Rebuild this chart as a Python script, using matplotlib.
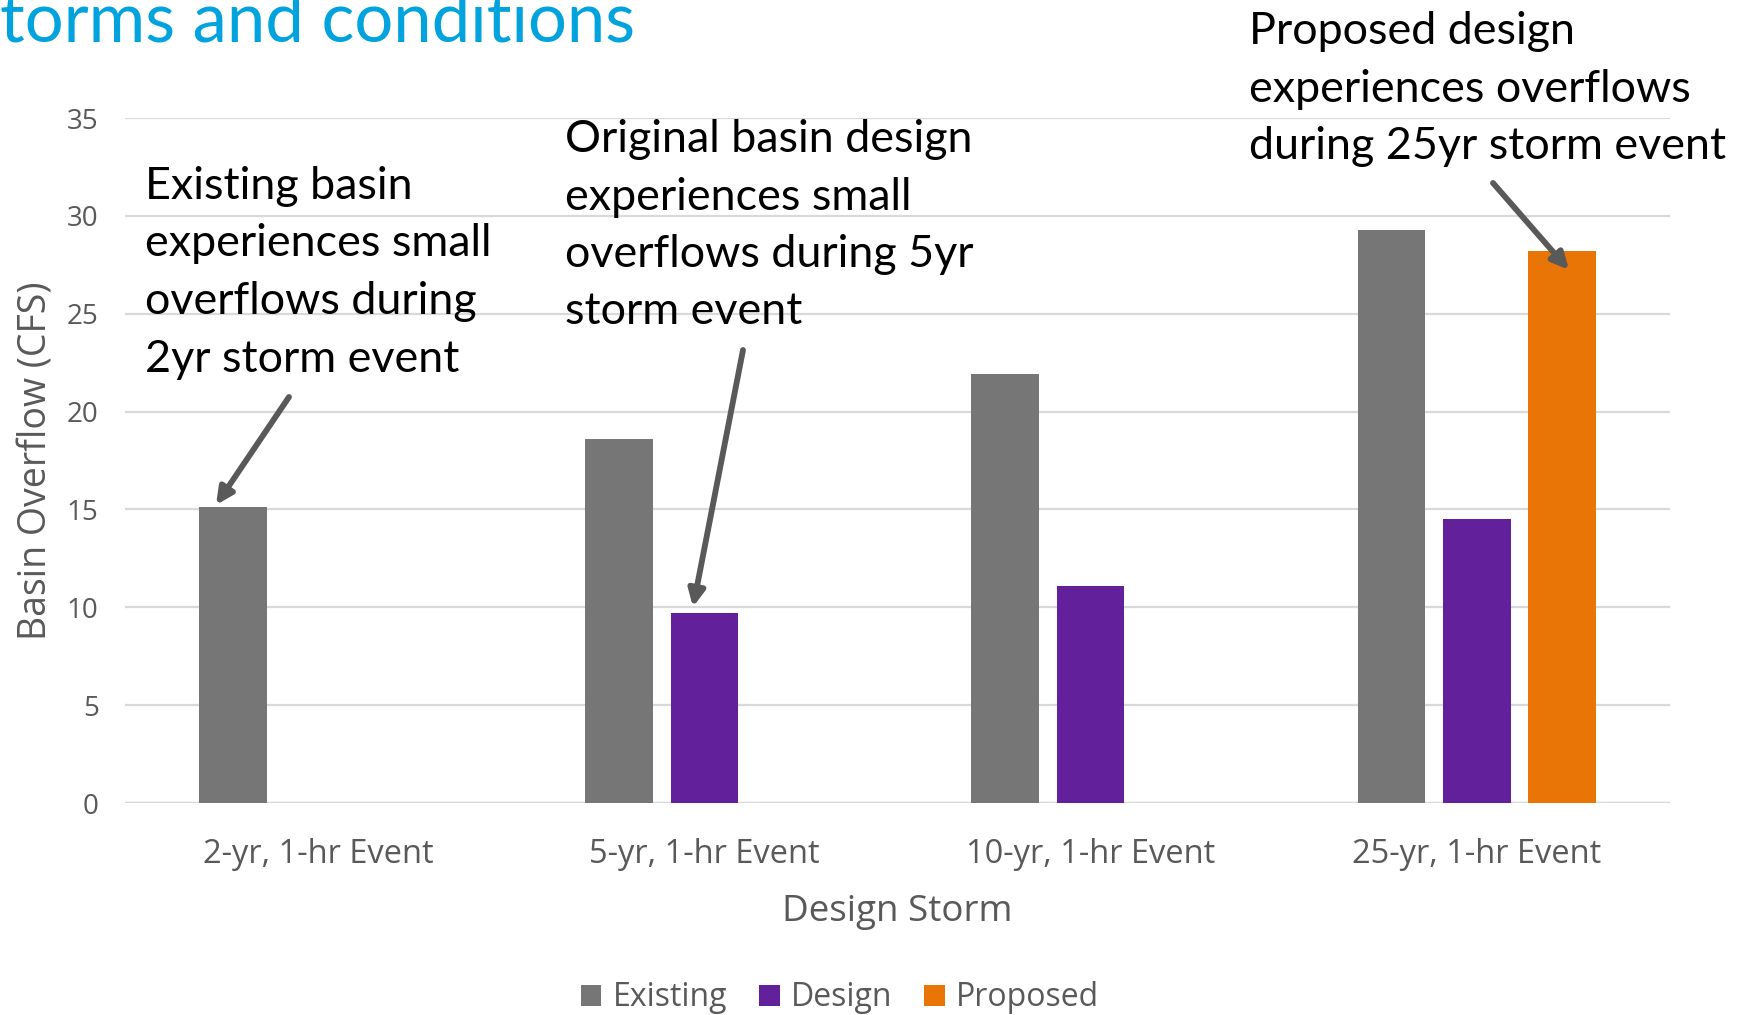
import matplotlib
matplotlib.use("Agg")
import matplotlib.pyplot as plt
import numpy as np
from matplotlib.patches import Patch

categories = ["2-yr, 1-hr Event", "5-yr, 1-hr Event", "10-yr, 1-hr Event", "25-yr, 1-hr Event"]
existing = [15.1, 18.6, 21.9, 29.3]
design = [np.nan, 9.7, 11.1, 14.5]
proposed = [np.nan, np.nan, np.nan, 28.2]
series_names = ["Existing", "Design", "Proposed"]
colors = ["#767676", "#63209B", "#E97506"]
yticks = [0, 5, 10, 15, 20, 25, 30, 35]

W, H = 1741, 1015
fig = plt.figure(figsize=(W / 100, H / 100), dpi=100)
ax = fig.add_axes([125 / W, 1 - 803 / H, (1670 - 125) / W, (803 - 118) / H])

x = np.arange(len(categories))
bw = 0.175
off = 0.221
for i, (vals, c) in enumerate(zip([existing, design, proposed], colors)):
    ax.bar(x + (i - 1) * off, vals, width=bw, color=c, zorder=2)

ax.set_xlim(-0.5, 3.5)
ax.set_ylim(0, 35)
ax.set_yticks(yticks)
ax.grid(axis="y", color="#D9D9D9", lw=1.6, zorder=0)
ax.axhline(0, color="#D9D9D9", lw=2.4, zorder=1)
for s in ax.spines.values():
    s.set_visible(False)
ax.tick_params(axis="both", length=0, colors="#595959")
ax.tick_params(axis="y", labelsize=20, pad=19)
ax.tick_params(axis="x", labelsize=23.5, pad=25)
ax.set_xticks(x)
ax.set_xticklabels(categories, fontfamily="Open Sans")
for t in ax.get_yticklabels():
    t.set_fontfamily("Open Sans")

ax.set_xlabel("Design Storm", fontsize=26.5, color="#595959", fontfamily="Open Sans", labelpad=17)
fig.text(37 / W, 1 - 461 / H, "Basin Overflow (CFS)", fontsize=27, color="#595959",
         fontfamily="Open Sans", rotation=90, ha="center", va="center")

# Title fragment (cut off at top)
fig.text(0.0, 1 - 41 / H, "torms and conditions", fontsize=49.5, color="#00A3DD",
         fontfamily="Lato", ha="left", va="baseline")

# Annotations
akw = dict(arrowstyle="-|>,head_length=0.45,head_width=0.22", color="#595959", lw=4.2,
           shrinkA=0, shrinkB=0, mutation_scale=22)
tkw = dict(fontsize=32.3, fontfamily="Lato", color="black", ha="left", va="top", linespacing=1.5)

def fpos(px, py):
    return (px / W, 1 - py / H)

fig.text(*fpos(145, 166), "Existing basin\nexperiences small\noverflows during\n2yr storm event", **tkw)
ax.annotate("", xy=fpos(216, 505), xycoords="figure fraction", xytext=fpos(289, 397),
            textcoords="figure fraction", arrowprops=akw)

fig.text(*fpos(565, 119), "Original basin design\nexperiences small\noverflows during 5yr\nstorm event", **tkw)
ax.annotate("", xy=fpos(693, 607), xycoords="figure fraction", xytext=fpos(743, 350),
            textcoords="figure fraction", arrowprops=akw)

fig.text(*fpos(1249, 11), "Proposed design\nexperiences overflows\nduring 25yr storm event", **tkw)
ax.annotate("", xy=fpos(1569, 270), xycoords="figure fraction", xytext=fpos(1493, 183),
            textcoords="figure fraction", arrowprops=akw)

handles = [Patch(facecolor=c, edgecolor="none") for c in colors]
leg = fig.legend(handles, series_names, loc="center", bbox_to_anchor=(840 / W, 1 - 998 / H),
                 ncol=3, frameon=False, handlelength=0.65, handleheight=0.65,
                 handletextpad=0.35, columnspacing=1.0, prop={"family": "Open Sans", "size": 23})
for t in leg.get_texts():
    t.set_color("#595959")

fig.savefig("out.png", dpi=100)
